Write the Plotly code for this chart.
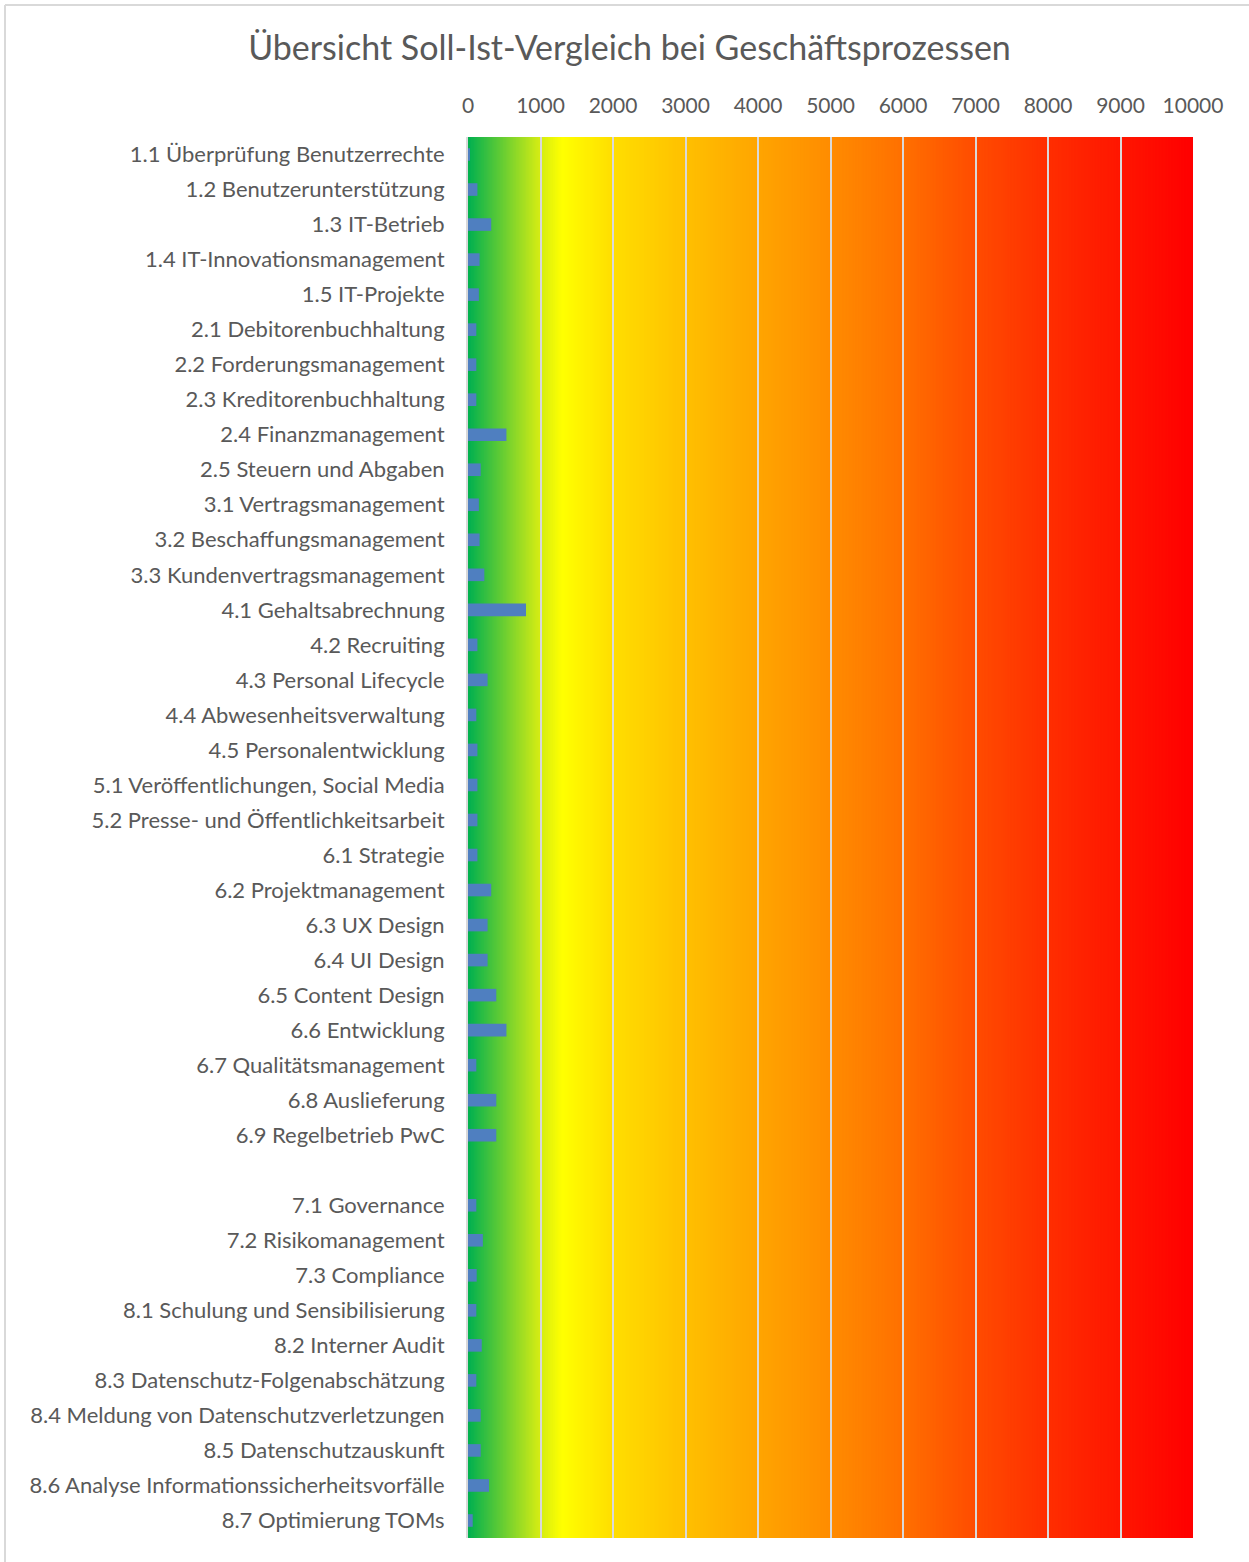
import plotly.graph_objects as go

categories = [
    "1.1 Überprüfung Benutzerrechte",
    "1.2 Benutzerunterstützung",
    "1.3 IT-Betrieb",
    "1.4 IT-Innovationsmanagement",
    "1.5 IT-Projekte",
    "2.1 Debitorenbuchhaltung",
    "2.2 Forderungsmanagement",
    "2.3 Kreditorenbuchhaltung",
    "2.4 Finanzmanagement",
    "2.5 Steuern und Abgaben",
    "3.1 Vertragsmanagement",
    "3.2 Beschaffungsmanagement",
    "3.3 Kundenvertragsmanagement",
    "4.1 Gehaltsabrechnung",
    "4.2 Recruiting",
    "4.3 Personal Lifecycle",
    "4.4 Abwesenheitsverwaltung",
    "4.5 Personalentwicklung",
    "5.1 Veröffentlichungen, Social Media",
    "5.2 Presse- und Öffentlichkeitsarbeit",
    "6.1 Strategie",
    "6.2 Projektmanagement",
    "6.3 UX Design",
    "6.4 UI Design",
    "6.5 Content Design",
    "6.6 Entwicklung",
    "6.7 Qualitätsmanagement",
    "6.8 Auslieferung",
    "6.9 Regelbetrieb PwC",
    " ",
    "7.1 Governance",
    "7.2 Risikomanagement",
    "7.3 Compliance",
    "8.1 Schulung und Sensibilisierung",
    "8.2 Interner Audit",
    "8.3 Datenschutz-Folgenabschätzung",
    "8.4 Meldung von Datenschutzverletzungen",
    "8.5 Datenschutzauskunft",
    "8.6 Analyse Informationssicherheitsvorfälle",
    "8.7 Optimierung TOMs",
]

values = [
    15, 130, 320, 160, 150,
    115, 115, 115, 530, 175,
    150, 160, 225,
    800, 130, 270, 115, 130,
    130, 130,
    130, 320, 270, 270, 390, 530, 115, 390, 390,
    None,
    115, 205, 120,
    115, 190, 115, 175, 175, 290, 65,
]

x_ticks = [0, 1000, 2000, 3000, 4000, 5000, 6000, 7000, 8000, 9000, 10000]

# background gradient colour stops (value, rgb)
grad_stops = [
    (0, (0, 176, 80)),
    (950, (205, 234, 22)),
    (1300, (255, 255, 0)),
    (2000, (255, 222, 0)),
    (3000, (255, 192, 0)),
    (4000, (255, 165, 0)),
    (5000, (255, 140, 0)),
    (6000, (255, 112, 0)),
    (7000, (255, 76, 0)),
    (8000, (255, 46, 0)),
    (9000, (255, 22, 0)),
    (10000, (255, 0, 0)),
]


def grad_color(v):
    for (a, ca), (b, cb) in zip(grad_stops[:-1], grad_stops[1:]):
        if a <= v <= b:
            t = (v - a) / (b - a)
            c = [round(ca[i] + (cb[i] - ca[i]) * t) for i in range(3)]
            return f"rgb({c[0]},{c[1]},{c[2]})"
    return "rgb(255,0,0)"


FONT = "Lato"
TXT = "#595959"

fig = go.Figure()
fig.add_trace(go.Bar(
    y=categories, x=values, orientation="h",
    marker=dict(color="#4f7fc0", line=dict(width=0)),
    showlegend=False,
))

shapes = []
step = 20
n = 10000 // step
for i in range(n):
    x0 = i * step
    x1 = min(x0 + 2 * step, 10000)
    shapes.append(dict(
        type="rect", xref="x", yref="paper", x0=x0, x1=x1, y0=0, y1=1,
        fillcolor=grad_color(x0 + step / 2), line=dict(width=0), layer="below",
    ))

# outer chart border (top and left)
shapes.append(dict(type="line", xref="paper", yref="paper",
                   x0=(5 - 468) / 725, x1=(1260 - 468) / 725,
                   y0=(1538 - 5) / 1401, y1=(1538 - 5) / 1401,
                   line=dict(color="#d9d9d9", width=2), layer="above"))
shapes.append(dict(type="line", xref="paper", yref="paper",
                   x0=(5 - 468) / 725, x1=(5 - 468) / 725,
                   y0=(1538 - 5) / 1401, y1=(1538 - 1575) / 1401,
                   line=dict(color="#d9d9d9", width=2), layer="above"))

fig.update_layout(
    width=1249, height=1562,
    margin=dict(l=468, r=56, t=137, b=24, autoexpand=False),
    paper_bgcolor="white",
    plot_bgcolor="rgba(0,0,0,0)",
    bargap=0.64,
    shapes=shapes,
    title=dict(
        text="Übersicht Soll-Ist-Vergleich bei Geschäftsprozessen",
        font=dict(family=FONT, size=34, color=TXT),
        x=0.504, xref="container", xanchor="center",
        y=1 - 48 / 1562, yref="container", yanchor="middle",
    ),
    xaxis=dict(
        side="top", range=[0, 10000], tickvals=x_ticks,
        ticktext=[str(t) for t in x_ticks],
        showgrid=True, gridcolor="#d9d9d9", gridwidth=1.5,
        zeroline=False, showline=False, ticks="",
        ticklabelstandoff=19,
        tickfont=dict(family=FONT, size=21, color=TXT),
        fixedrange=True,
    ),
    yaxis=dict(
        categoryorder="array", categoryarray=categories,
        autorange="reversed",
        showgrid=False, zeroline=False,
        showline=True, linecolor="#d9d9d9", linewidth=2,
        ticks="", ticklabelstandoff=17,
        tickfont=dict(family=FONT, size=22, color=TXT),
        fixedrange=True,
    ),
)

fig.write_html("out.html", config={"displayModeBar": False},
               post_script="document.body.style.margin='0';")
